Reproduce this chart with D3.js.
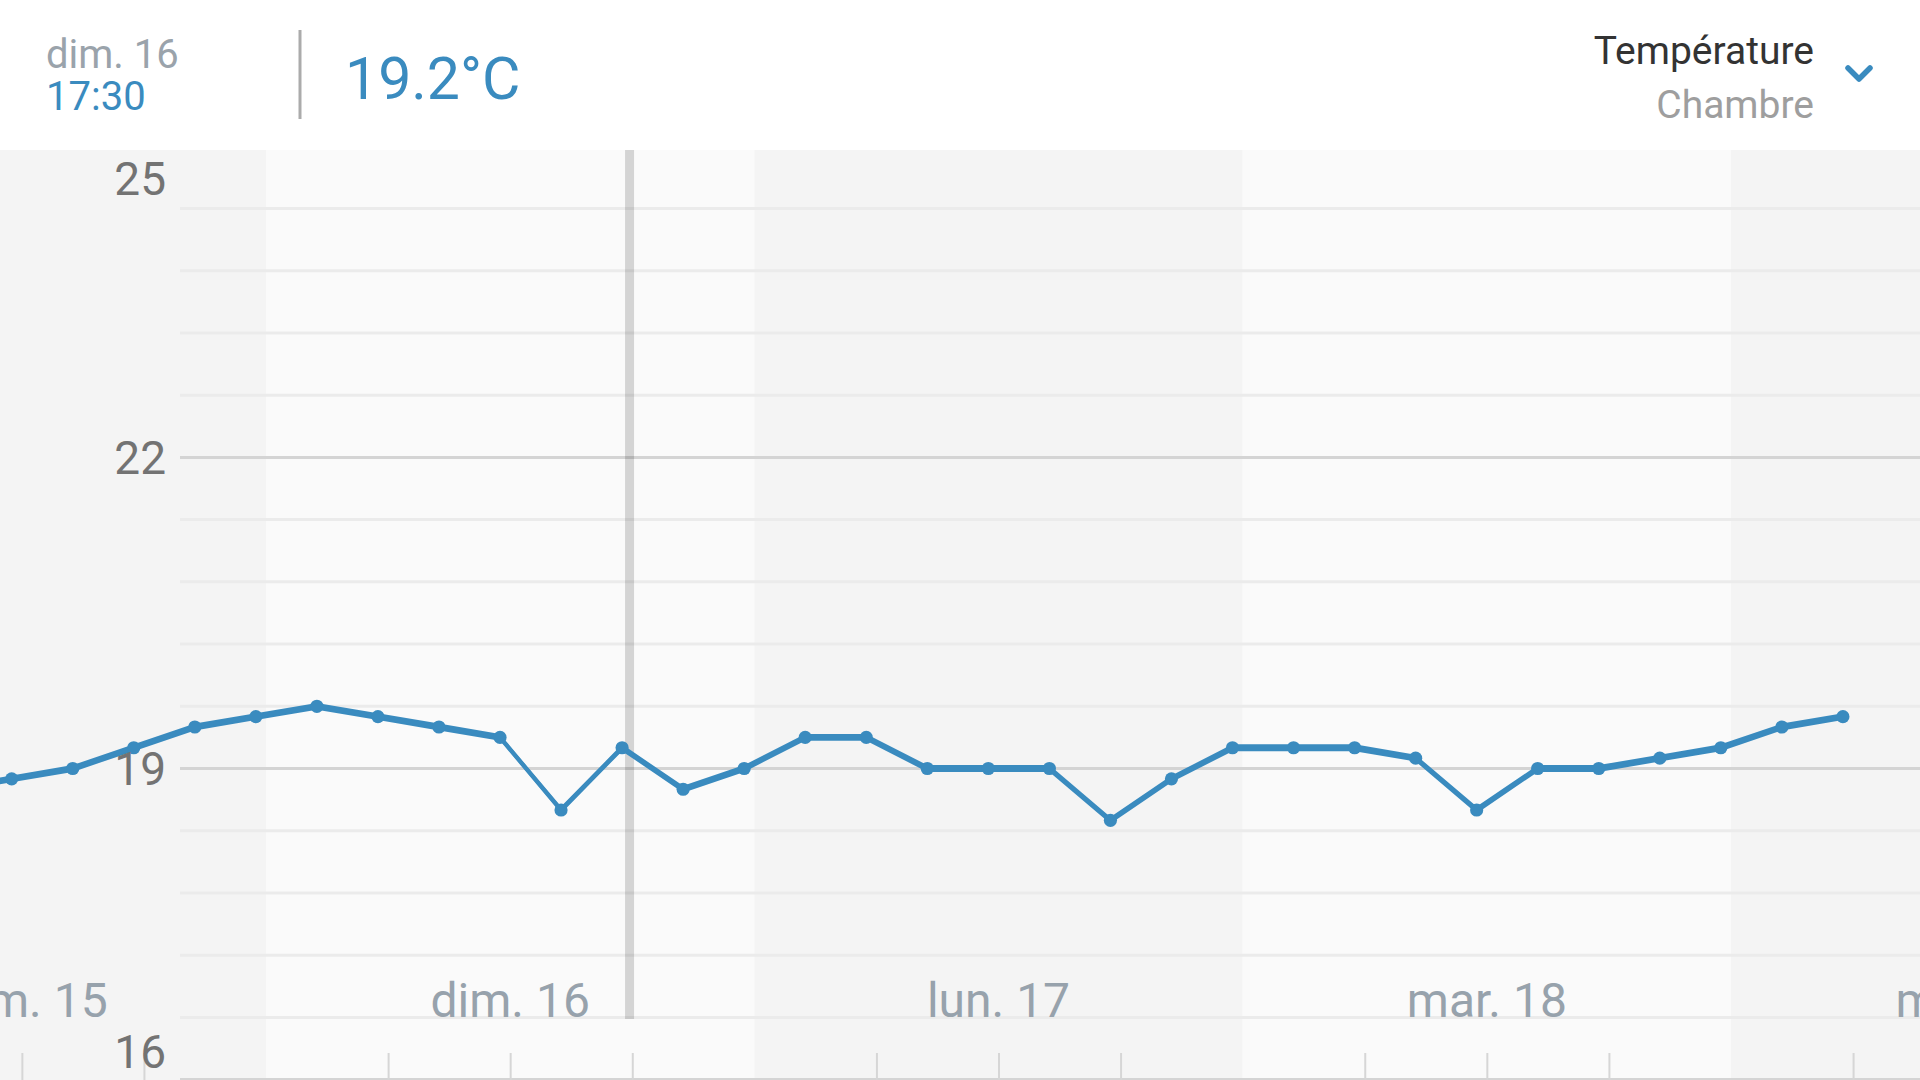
<!DOCTYPE html>
<html><head><meta charset="utf-8">
<script src="https://cdn.jsdelivr.net/npm/d3@7"></script>
<style>
html,body{margin:0;padding:0;background:#fff;overflow:hidden}
svg{display:block;font-family:Roboto,"Noto Sans",sans-serif}
</style>
</head><body>
<svg id="c" width="1920" height="1080"></svg>
<script>
// ---- data ----
const times = [
  "2025-03-15T08:30","2025-03-15T11:30","2025-03-15T14:30","2025-03-15T17:30","2025-03-15T20:30","2025-03-15T23:30",
  "2025-03-16T02:30","2025-03-16T05:30","2025-03-16T08:30","2025-03-16T11:30","2025-03-16T14:30","2025-03-16T17:30","2025-03-16T20:30","2025-03-16T23:30",
  "2025-03-17T02:30","2025-03-17T05:30","2025-03-17T08:30","2025-03-17T11:30","2025-03-17T14:30","2025-03-17T17:30","2025-03-17T20:30","2025-03-17T23:30",
  "2025-03-18T02:30","2025-03-18T05:30","2025-03-18T08:30","2025-03-18T11:30","2025-03-18T14:30","2025-03-18T17:30","2025-03-18T20:30","2025-03-18T23:30",
  "2025-03-19T02:30","2025-03-19T05:30"
];
const temps = [
  18.8, 18.9, 19.0, 19.2, 19.4, 19.5,
  19.6, 19.5, 19.4, 19.3, 18.6, 19.2, 18.8, 19.0,
  19.3, 19.3, 19.0, 19.0, 19.0, 18.5, 18.9, 19.2,
  19.2, 19.2, 19.1, 18.6, 19.0, 19.0, 19.1, 19.2,
  19.4, 19.5
];
const dayStarts = ["2025-03-15","2025-03-16","2025-03-17","2025-03-18","2025-03-19"];
const dayLabels = ["sam. 15","dim. 16","lun. 17","mar. 18","mer. 19"];
const yLabelTicks = [16, 19, 22, 25];
const yGridStep = 0.6;
const cursorTime = "2025-03-16T17:52";
const headerDate = "dim. 16";
const headerTime = "17:30";
const headerValue = "19.2°C";
const titleText = "Température";
const subtitleText = "Chambre";

// ---- setup ----
const W = 1920, H = 1080, plotTop = 150, gridLeft = 180;
const parseT = d3.timeParse("%Y-%m-%dT%H:%M");
const parseD = d3.timeParse("%Y-%m-%d");
const data = times.map((t, i) => ({t: parseT(t), v: temps[i]}));
const days = dayStarts.map((d, i) => ({start: parseD(d), end: d3.timeDay.offset(parseD(d), 1), label: dayLabels[i]}));

const x = d3.scaleTime()
  .domain([parseD("2025-03-15"), parseD("2025-03-19")])
  .range([-222.3, 1731]);
const y = d3.scaleLinear().domain([16, 25]).range([1079.6, 146.3]);

const svg = d3.select("#c");
svg.append("rect").attr("width", W).attr("height", H).attr("fill", "#fff");

// day bands
svg.append("g").selectAll("rect").data(days).join("rect")
  .attr("x", d => x(d.start)).attr("width", d => x(d.end) - x(d.start))
  .attr("y", plotTop).attr("height", H - plotTop)
  .attr("fill", (d, i) => i % 2 === 0 ? "#f4f4f4" : "#fafafa");

// grid lines
const gridVals = d3.range(16, 25 + 1e-6, yGridStep).map(v => +v.toFixed(2));
svg.append("g").selectAll("line").data(gridVals.filter(v => y(v) > plotTop + 1)).join("line")
  .attr("x1", gridLeft).attr("x2", W)
  .attr("y1", d => y(d)).attr("y2", d => y(d))
  .attr("stroke", d => yLabelTicks.includes(d) ? "#d4d4d4" : "#ebebeb")
  .attr("stroke-width", 3);

// x tick marks (every 6h except midnight)
const tickVals = d3.timeHour.every(6).range(days[0].start, days[days.length - 1].end)
  .filter(d => d.getHours() !== 0);
const xAxis = d3.axisBottom(x).tickValues(tickVals).tickSize(-27).tickFormat("");
const gx = svg.append("g").attr("transform", `translate(0,${H})`).call(xAxis);
gx.select(".domain").remove();
gx.selectAll(".tick line").attr("stroke", "#d6d6d6").attr("stroke-width", 2);

// cursor
svg.append("rect")
  .attr("x", x(parseT(cursorTime)) - 4.5).attr("width", 9)
  .attr("y", plotTop).attr("height", 1019 - plotTop)
  .attr("fill", "rgba(0,0,0,0.15)");

// x labels
svg.append("g").selectAll("text").data(days).join("text")
  .attr("x", d => x(new Date((+d.start + +d.end) / 2)))
  .attr("y", 1017)
  .attr("text-anchor", "middle")
  .attr("font-size", 48)
  .attr("fill", "#97a2ac")
  .text(d => d.label);

// line (vertical-brush ribbon + thin stroke)
const lineColor = "#3a8bbf";
const ribbon = d3.area().x(d => x(d.t)).y0(d => y(d.v) - 3.4).y1(d => y(d.v) + 3.4);
svg.append("path").datum(data).attr("d", ribbon).attr("fill", lineColor);
const line = d3.line().x(d => x(d.t)).y(d => y(d.v));
svg.append("path").datum(data).attr("d", line)
  .attr("fill", "none").attr("stroke", lineColor).attr("stroke-width", 3.6).attr("stroke-linejoin", "round");
svg.append("g").selectAll("circle").data(data).join("circle")
  .attr("cx", d => x(d.t)).attr("cy", d => y(d.v)).attr("r", 6.6).attr("fill", lineColor);

// y labels (clamped inside plot)
svg.append("g").selectAll("text").data(yLabelTicks).join("text")
  .attr("x", 166)
  .attr("y", d => Math.max(plotTop + 28, Math.min(H - 29, y(d))))
  .attr("dy", "0.36em")
  .attr("text-anchor", "end")
  .attr("font-size", 46)
  .attr("fill", "#737373")
  .text(d => d);

// header
const hdr = svg.append("g");
hdr.append("text").attr("x", 46).attr("y", 68).attr("font-size", 40).attr("fill", "#9aa3ab").text(headerDate);
hdr.append("text").attr("x", 46).attr("y", 110).attr("font-size", 40).attr("fill", lineColor).text(headerTime);
hdr.append("line").attr("x1", 300).attr("x2", 300).attr("y1", 30).attr("y2", 119)
  .attr("stroke", "#ababab").attr("stroke-width", 3);
hdr.append("text").attr("x", 345).attr("y", 99).attr("font-size", 59).attr("fill", lineColor).text(headerValue);
hdr.append("text").attr("x", 1814).attr("y", 64).attr("text-anchor", "end").attr("font-size", 39).attr("fill", "#333333").text(titleText);
hdr.append("text").attr("x", 1814).attr("y", 118).attr("text-anchor", "end").attr("font-size", 39).attr("fill", "#9e9e9e").text(subtitleText);
hdr.append("polyline").attr("points", "1848,68 1859,79 1870,68")
  .attr("fill", "none").attr("stroke", lineColor).attr("stroke-width", 5.5)
  .attr("stroke-linecap", "round").attr("stroke-linejoin", "round");
</script>
</body></html>
